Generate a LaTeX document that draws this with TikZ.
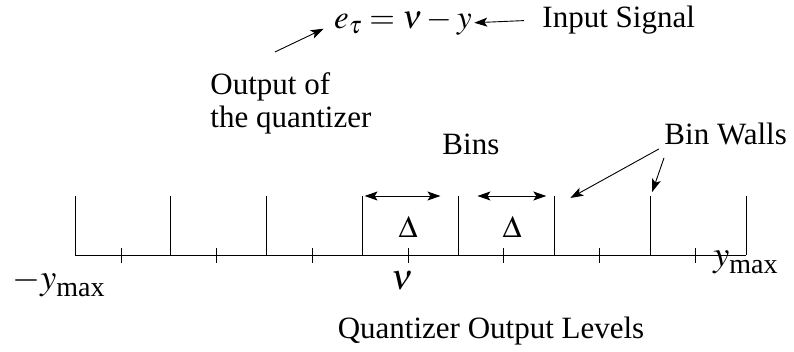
\documentclass[tikz,border=0pt]{standalone}
\usepackage{mathptmx}
\usepackage{fontspec}
\setmainfont{Liberation Serif}
\usetikzlibrary{arrows.meta}

\newcommand{\maxsub}{\raisebox{-6pt}{\fontsize{28}{28}\selectfont max}}

\begin{document}
\begin{tikzpicture}[
    x=1pt, y=-1pt,
    >={Stealth[length=13pt,width=9pt,inset=3pt]},
    font=\fontsize{31}{33}\selectfont,
    line width=0.9pt,
    lbl/.style={inner sep=2pt},
    big/.style={inner sep=2pt, font=\fontsize{36}{36}\selectfont}
]
\useasboundingbox (0,0) rectangle (794,352);

\draw (75,255) -- (746,255);
\foreach \i in {0,...,7} {
    \draw (75+95.86*\i,255) -- (75+95.86*\i,196);
    \coordinate (w\i) at (75+95.86*\i,196);
}
\foreach \i in {0,...,6}
    \draw (121+95.7*\i,248) -- (121+95.7*\i,263);

\node[inner sep=0pt, anchor=base, font=\fontsize{33}{33}\selectfont] (eq) at (403,29) {$e_\tau = \nu - y$};
\node[lbl, anchor=base west] (insig) at (540,28) {Input Signal};
\node[inner sep=0pt, anchor=north west, align=left] (outq) at (210,72)
    {Output of\\the quantizer};

\draw[->] ([xshift=-16pt]insig.west) -- ([xshift=2pt]eq.east);
\draw[->] ([shift={(-16pt,20pt)}]outq.north) -- ([shift={(-10pt,-6pt)}]eq.west);

\node[lbl, anchor=base west] (bins) at (440,155) {Bins};
\node[lbl, anchor=base west] (binw) at (662,145) {Bin Walls};

\draw[<->] ([xshift=2pt]w3) -- ([xshift=-18pt]w4);
\draw[<->] ([xshift=19pt]w4) -- ([xshift=-8pt]w5);
\node[lbl] (d1) at (408,227) {$\Delta$};
\node[lbl] (d2) at (512,227) {$\Delta$};

\draw[->] ([shift={(-3pt,-1pt)}]binw.south west) -- ([shift={(16pt,-2pt)}]w5);
\draw[->] ([shift={(2pt,-10pt)}]binw.south west) -- ([shift={(2pt,4pt)}]w6);

\node[big, anchor=base west] (ymaxr) at (711,267) {$y$\maxsub};
\node[big, anchor=base west] (ymaxl) at (10,290) {$-y$\maxsub};
\node[big, anchor=base] (nu) at (402,290) {$\nu$};

\node[lbl, anchor=base] (levels) at (491,338) {Quantizer Output Levels};

\end{tikzpicture}
\end{document}
